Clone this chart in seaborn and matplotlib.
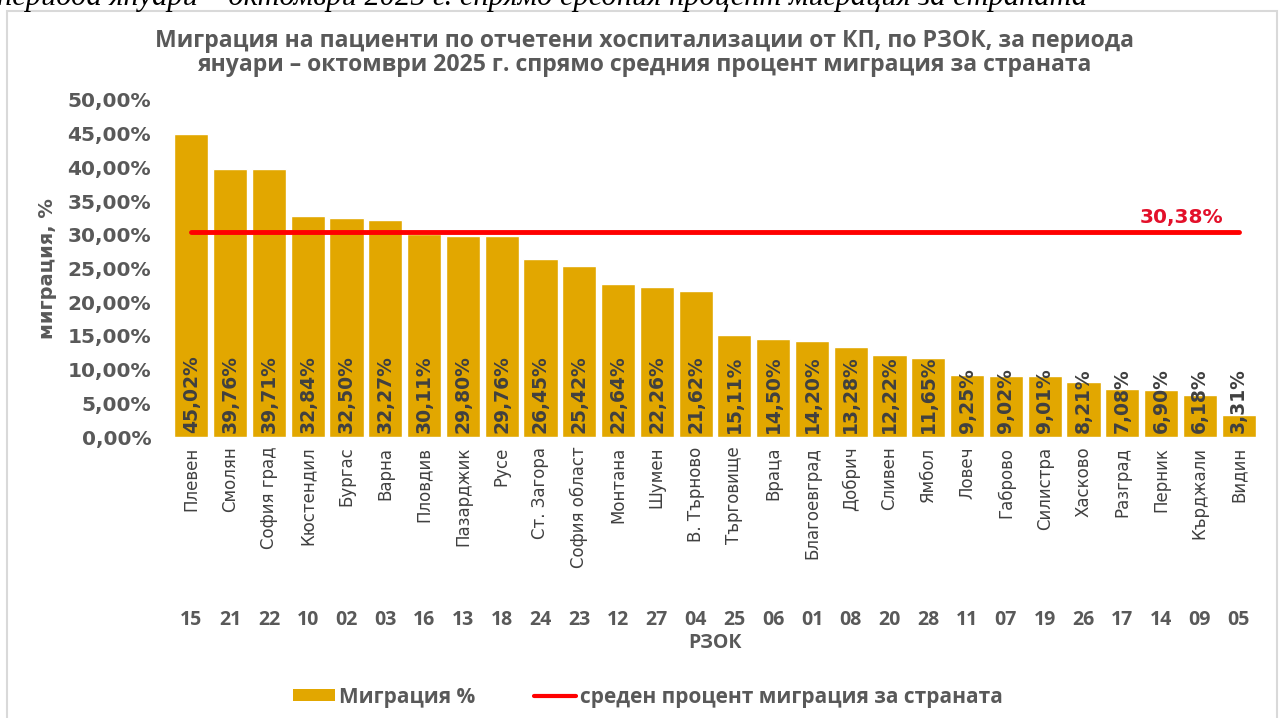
import numpy as np
import pandas as pd
import matplotlib
matplotlib.use("Agg")
import matplotlib.pyplot as plt
import seaborn as sns
from matplotlib.patches import Patch, Rectangle
from matplotlib.lines import Line2D

# data
regions = ["Плевен", "Смолян", "София град", "Кюстендил", "Бургас", "Варна",
           "Пловдив", "Пазарджик", "Русе", "Ст. Загора", "София област", "Монтана",
           "Шумен", "В. Търново", "Търговище", "Враца", "Благоевград", "Добрич",
           "Сливен", "Ямбол", "Ловеч", "Габрово", "Силистра", "Хасково",
           "Разград", "Перник", "Кърджали", "Видин"]
codes = ["15", "21", "22", "10", "02", "03", "16", "13", "18", "24", "23", "12",
         "27", "04", "25", "06", "01", "08", "20", "28", "11", "07", "19", "26",
         "17", "14", "09", "05"]
migration = [45.02, 39.76, 39.71, 32.84, 32.50, 32.27, 30.11, 29.80, 29.76, 26.45,
             25.42, 22.64, 22.26, 21.62, 15.11, 14.50, 14.20, 13.28, 12.22, 11.65,
             9.25, 9.02, 9.01, 8.21, 7.08, 6.90, 6.18, 3.31]
avg_migration = 30.38
yticks = [0, 5, 10, 15, 20, 25, 30, 35, 40, 45, 50]

bar_color = "#E2A700"
red = "#FF0000"
grey = "#595959"
dark = "#404040"
cond = "Open Sans"
wide = "DejaVu Sans"


def pct(v):
    return f"{v:.2f}".replace(".", ",") + "%"


df = pd.DataFrame({"region": regions, "code": codes, "migration": migration})

sns.set_style("white")
plt.rcParams["font.family"] = ["DejaVu Sans"]

fig = plt.figure(figsize=(12.81, 7.18), dpi=100)
ax = fig.add_axes([172 / 1281, 1 - 437 / 718, 1086 / 1281, 337 / 718])

sns.barplot(data=df, x="region", y="migration", color=bar_color, width=0.88,
            saturation=1, ax=ax)

n = len(regions)
ax.plot(np.arange(n), np.full(n, avg_migration), color=red, lw=3.5, zorder=3)
ax.text(n - 1.4, avg_migration + 0.8, pct(avg_migration), color="#E3102A",
        fontsize=14.5, fontweight="bold", ha="right", va="bottom", family=wide)

for i, v in enumerate(migration):
    ax.text(i, 0.6, pct(v), rotation=90, ha="center", va="bottom",
            fontsize=13.5, fontweight="bold", color=dark, zorder=4, family=wide)

ax.set_xlim(-0.5, n - 0.5)
ax.set_ylim(0, 50)
ax.set_yticks(yticks)
ax.set_yticklabels([pct(t) for t in yticks], fontsize=14.5, fontweight="bold",
                   color=grey, family=wide)
ax.set_xticks(range(n))
ax.set_xticklabels(regions, rotation=90, fontsize=12, color=dark, va="top",
                   family=wide)
ax.tick_params(axis="x", length=0, pad=7)
ax.tick_params(axis="y", length=0, pad=15)
ax.set_xlabel("")
ax.set_ylabel("миграция, %", fontsize=14, fontweight="bold", color=grey,
              family=wide)
ax.yaxis.set_label_coords(-0.106, 0.5)
sns.despine(ax=ax, left=True, bottom=True)
ax.grid(False)

for i, c in enumerate(codes):
    ax.text(i, -0.543, c, transform=ax.get_xaxis_transform(), ha="center",
            va="center", fontsize=14, fontweight="bold", color=grey,
            family=cond)
ax.text(0.5, -0.611, "РЗОК", transform=ax.transAxes, ha="center", va="center",
        fontsize=14, fontweight="bold", color=grey, family=cond)

fig.text(0.503, 1 - 53 / 718,
         "Миграция на пациенти по отчетени хоспитализации от КП, по РЗОК, за периода\n"
         "януари – октомври 2025 г. спрямо средния процент миграция за страната",
         ha="center", va="center", fontsize=16.6, fontweight="bold", color=grey,
         family=cond, linespacing=1.0)

# cut-off caption from the page above the chart
fig.text(-0.002, 1 - 5 / 718,
         "периода януари – октомври 2025 г. спрямо средния процент миграция за страната",
         ha="left", va="baseline", fontsize=22, style="italic", color="black",
         family="Liberation Serif")

fig.patches.append(Rectangle((7 / 1281, -0.01), 1270 / 1281, 1 - 11 / 718 + 0.01,
                             transform=fig.transFigure, fill=False,
                             edgecolor="#D9D9D9", lw=1.5))

handles = [Patch(facecolor=bar_color, edgecolor="none"),
           Line2D([0], [0], color=red, lw=3)]
fig.legend(handles, ["Миграция %", "среден процент миграция за страната"],
           loc="center", bbox_to_anchor=(648 / 1281, 1 - 697 / 718), ncol=2,
           frameon=False, handlelength=2.0, handleheight=0.5, handletextpad=0.2,
           columnspacing=2.8,
           prop={"family": cond, "weight": "bold", "size": 15},
           labelcolor=grey)

fig.savefig("out.png", dpi=100)
